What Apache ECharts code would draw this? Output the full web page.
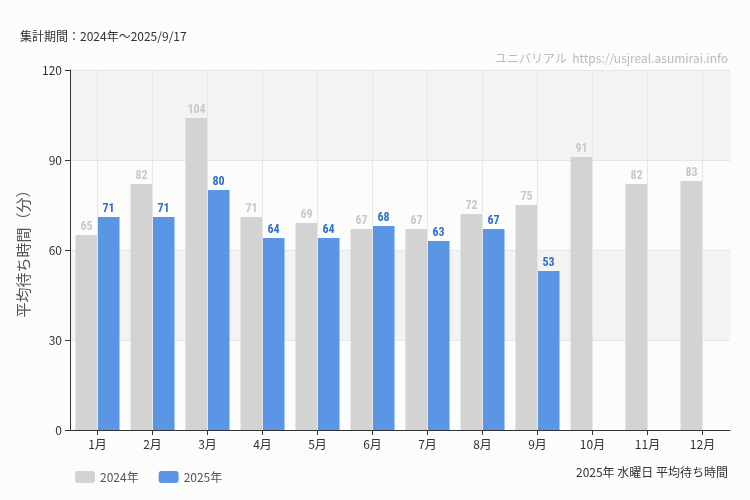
<!DOCTYPE html>
<html><head><meta charset="utf-8">
<script src="https://cdn.jsdelivr.net/npm/echarts@6/dist/echarts.min.js"></script>
<style>html,body{margin:0;background:#fcfcfa}#c{width:750px;height:500px}</style>
</head><body><div id="c"></div>
<script>
const categories=['1月','2月','3月','4月','5月','6月','7月','8月','9月','10月','11月','12月'];
const values2024=[65,82,104,71,69,67,67,72,75,91,82,83];
const values2025=[71,71,80,64,64,68,63,67,53,null,null,null];
const chart=echarts.init(document.getElementById('c'));
const lbl=c=>({show:true,position:'top',distance:2,color:c,fontFamily:'Roboto Condensed, Liberation Sans Narrow, sans-serif',fontSize:12,fontWeight:'bold'});
chart.setOption({
 backgroundColor:'#fcfcfa',
 textStyle:{fontFamily:'Noto Sans CJK JP, sans-serif'},
 graphic:[
  {type:'text',left:20,top:30,style:{text:'集計期間：2024年～2025/9/17',fill:'#333',fontSize:12,fontFamily:'Noto Sans CJK JP'}},
  {type:'text',right:22,top:52,style:{text:'ユニバリアル  https://usjreal.asumirai.info',fill:'#bbb',fontSize:12,fontFamily:'Noto Sans CJK JP'}},
  {type:'text',right:22,top:466,style:{text:'2025年 水曜日 平均待ち時間',fill:'#333',fontSize:12,fontFamily:'Noto Sans CJK JP'}}
 ],
 legend:{left:70,top:466,itemWidth:20,itemHeight:12,itemGap:20,textStyle:{color:'#555',fontSize:12},data:['2024年','2025年']},
 grid:{left:70,right:20,top:70,bottom:70},
 xAxis:{type:'category',data:categories,axisTick:{show:true,alignWithLabel:true,lineStyle:{color:'#333'}},axisLine:{lineStyle:{color:'#333'}},axisLabel:{color:'#333',fontSize:12},splitLine:{show:false}},
 yAxis:{type:'value',min:0,max:120,interval:30,name:'平均待ち時間（分）',nameLocation:'middle',nameGap:35,nameTextStyle:{color:'#555',fontSize:15},
  axisLine:{show:true,lineStyle:{color:'#333'}},axisTick:{show:true},axisLabel:{color:'#333'},
  splitLine:{lineStyle:{color:'#e6e6e6'}},splitArea:{show:true,areaStyle:{color:['rgba(0,0,0,0)','#f3f3f3']}}},
 series:[
  {type:'line',data:[],z:0,silent:true,markLine:{silent:true,symbol:'none',label:{show:false},lineStyle:{color:'#e6e6e6',type:'solid',width:1},data:categories.map(c=>({xAxis:c}))}},
  {name:'2024年',type:'bar',data:values2024,barGap:'0%',barCategoryGap:'20%',z:2,itemStyle:{color:'#d3d3d1'},label:lbl('#c8c8c8')},
  {name:'2025年',type:'bar',data:values2025,z:2,itemStyle:{color:'#5b95e6'},label:lbl('#2f6fd0')}
 ]
});
</script></body></html>
